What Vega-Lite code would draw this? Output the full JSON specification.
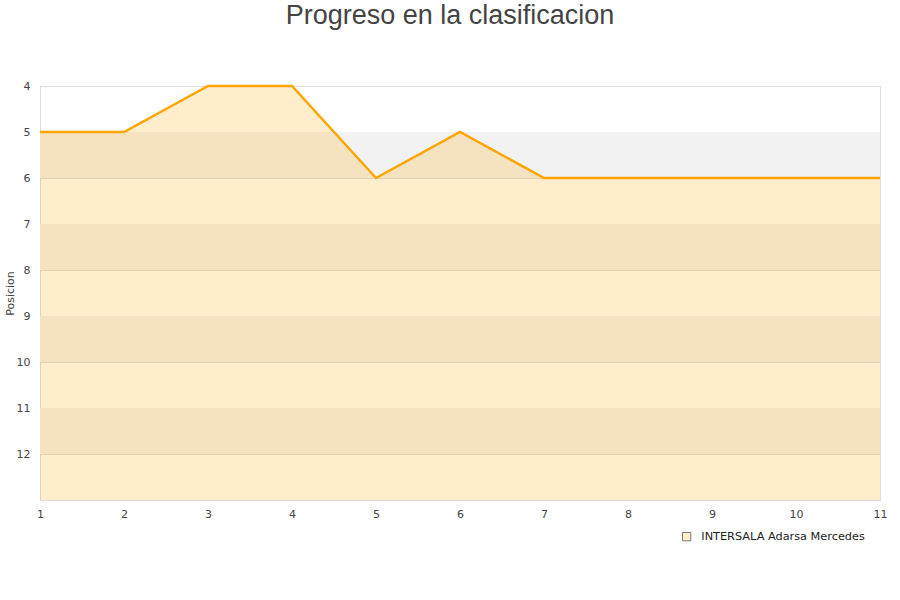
{
  "$schema": "https://vega.github.io/schema/vega-lite/v6.json",
  "autosize": "none",
  "width": 840,
  "height": 414,
  "padding": {"left": 40, "top": 86, "right": 20, "bottom": 100},
  "background": "white",
  "title": {
    "text": "Progreso en la clasificacion",
    "fontSize": 27,
    "fontWeight": "normal",
    "font": "Liberation Sans",
    "color": "#444444",
    "anchor": "middle",
    "dx": -10,
    "offset": 50
  },
  "config": {
    "view": {"stroke": "#dddddd", "strokeWidth": 1},
    "axis": {
      "labelFont": "DejaVu Sans",
      "titleFont": "DejaVu Sans",
      "labelFontSize": 11,
      "labelColor": "#444444",
      "titleColor": "#444444",
      "domain": false,
      "ticks": false
    },
    "legend": {"labelFont": "DejaVu Sans"}
  },
  "datasets": {
    "bands": [
      {"lo": 5, "hi": 6},
      {"lo": 7, "hi": 8},
      {"lo": 9, "hi": 10},
      {"lo": 11, "hi": 12}
    ],
    "progress": [
      {"jornada": 1, "posicion": 5, "equipo": "INTERSALA Adarsa Mercedes"},
      {"jornada": 2, "posicion": 5, "equipo": "INTERSALA Adarsa Mercedes"},
      {"jornada": 3, "posicion": 4, "equipo": "INTERSALA Adarsa Mercedes"},
      {"jornada": 4, "posicion": 4, "equipo": "INTERSALA Adarsa Mercedes"},
      {"jornada": 5, "posicion": 6, "equipo": "INTERSALA Adarsa Mercedes"},
      {"jornada": 6, "posicion": 5, "equipo": "INTERSALA Adarsa Mercedes"},
      {"jornada": 7, "posicion": 6, "equipo": "INTERSALA Adarsa Mercedes"},
      {"jornada": 8, "posicion": 6, "equipo": "INTERSALA Adarsa Mercedes"},
      {"jornada": 9, "posicion": 6, "equipo": "INTERSALA Adarsa Mercedes"},
      {"jornada": 10, "posicion": 6, "equipo": "INTERSALA Adarsa Mercedes"},
      {"jornada": 11, "posicion": 6, "equipo": "INTERSALA Adarsa Mercedes"}
    ]
  },
  "layer": [
    {
      "data": {"name": "bands"},
      "mark": {"type": "rect", "color": "#f2f2f2"},
      "encoding": {
        "y": {
          "field": "lo",
          "type": "quantitative",
          "scale": {"domain": [4, 13], "reverse": true, "nice": false, "zero": false},
          "axis": {
            "values": [4, 5, 6, 7, 8, 9, 10, 11, 12],
            "format": "d",
            "title": "Posicion",
            "titleFontSize": 11,
            "titleFontWeight": "normal",
            "titleX": -30,
            "titleBaseline": "middle",
            "labelPadding": 10,
            "grid": true,
            "gridColor": "#dddddd"
          }
        },
        "y2": {"field": "hi"}
      }
    },
    {
      "data": {"name": "progress"},
      "mark": {"type": "area", "fillOpacity": 0.2},
      "encoding": {
        "x": {
          "field": "jornada",
          "type": "quantitative",
          "scale": {"domain": [1, 11], "nice": false, "zero": false},
          "axis": {
            "values": [1, 2, 3, 4, 5, 6, 7, 8, 9, 10, 11],
            "format": "d",
            "title": null,
            "grid": false,
            "labelPadding": 8,
            "labelFlush": false
          }
        },
        "y": {"field": "posicion", "type": "quantitative"},
        "y2": {"datum": 13},
        "fill": {
          "field": "equipo",
          "type": "nominal",
          "scale": {"range": ["#ffa500"]},
          "legend": {
            "title": null,
            "orient": "none",
            "legendX": 641,
            "legendY": 445,
            "symbolType": "square",
            "symbolSize": 70,
            "labelOffset": 9,
            "labelLimit": 400,
            "labelFontSize": 11.3,
            "labelColor": "#222222",
            "encode": {
              "symbols": {
                "update": {
                  "fillOpacity": {"value": 0.2},
                  "opacity": {"value": 1},
                  "stroke": {"value": "#777777"},
                  "strokeOpacity": {"value": 1},
                  "strokeWidth": {"value": 1}
                }
              }
            }
          }
        }
      }
    },
    {
      "data": {"name": "progress"},
      "mark": {"type": "line", "color": "#ffa500", "strokeWidth": 2.5},
      "encoding": {
        "x": {"field": "jornada", "type": "quantitative"},
        "y": {"field": "posicion", "type": "quantitative"}
      }
    }
  ]
}
